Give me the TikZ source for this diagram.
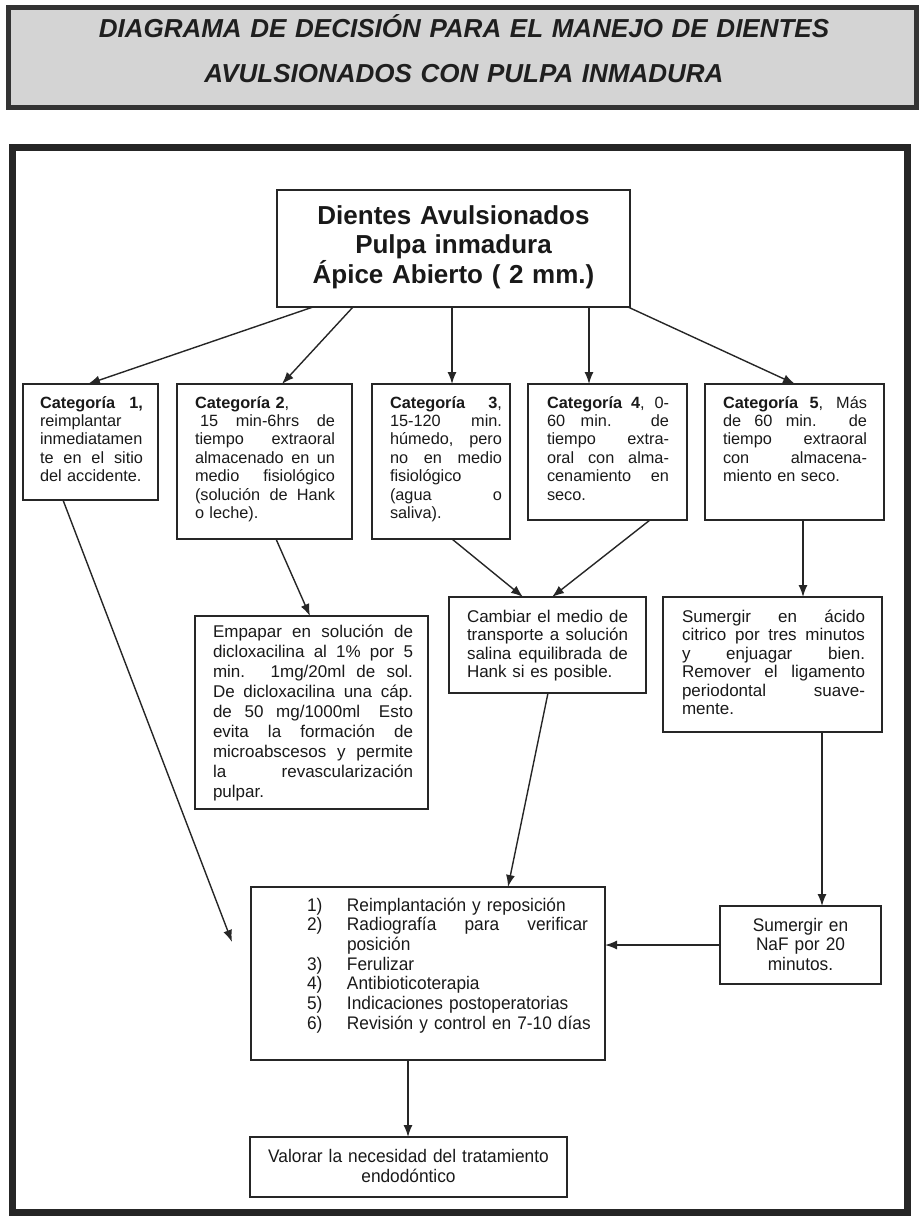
\documentclass[tikz,border=0pt]{standalone}
\usepackage{fontspec}
\setmainfont{Liberation Sans}
\newfontfamily\narrowfont[FakeStretch=0.95]{Liberation Sans}
\usetikzlibrary{arrows.meta,calc}
\newcommand{\jl}[1]{\makebox[\hsize][s]{\spaceskip=0pt\xspaceskip=0pt #1}}
\newcommand{\jw}[2]{\makebox[#1][s]{\spaceskip=0pt\xspaceskip=0pt #2}}
\tikzset{
 box/.style={draw=black!85, line width=1.6pt, inner sep=0pt, outer sep=0pt, anchor=north west},
 txt/.style={anchor=base west, inner sep=0pt, outer sep=0pt, align=left, text=black!90},
 cattxt/.style={txt, font=\fontsize{16.3}{18.4}\selectfont},
 midtxt/.style={txt, font=\fontsize{17}{18.4}\selectfont},
 narrowtxt/.style={inner sep=0pt, outer sep=0pt, text=black!90, font=\narrowfont\fontsize{18.2}{19.7}\selectfont},
 arr/.style={draw=black!85, line width=1.4pt, -{Latex[length=12pt,width=9pt]}},
}
\begin{document}
\begin{tikzpicture}[x=1pt,y=-1pt]
\useasboundingbox (0,0) rectangle (921,1218);
% title
\node[box, draw=black!80, fill=black!17, line width=5pt, minimum width=908pt, minimum height=100pt] (tbox) at (8.5,7.5) {};
\node[anchor=base, inner sep=0pt, text width=900pt, align=center, text=black!88,
  font=\fontsize{26}{45}\selectfont\bfseries\itshape] (title) at (464,37)
  {DIAGRAMA DE DECISIÓN PARA EL MANEJO DE DIENTES\\AVULSIONADOS CON PULPA INMADURA};
% frame
\node[box, draw=black!85, line width=7pt, minimum width=895pt, minimum height=1065.5pt] (frame) at (12,147) {};
% top box
\node[box, minimum width=353pt, minimum height=117pt] (top) at (277,190) {};
\node[anchor=base, inner sep=0pt, text width=345pt, align=center, text=black!90,
  font=\fontsize{26}{29.5}\selectfont\bfseries] (topt) at (453.5,224)
  {Dientes Avulsionados\\Pulpa inmadura\\Ápice Abierto ( 2 mm.)};
% categories
\node[box, minimum width=135pt, minimum height=116pt] (c1) at (23,384) {};
\node[box, minimum width=175pt, minimum height=155pt] (c2) at (177,384) {};
\node[box, minimum width=138pt, minimum height=155pt] (c3) at (372,384) {};
\node[box, minimum width=159pt, minimum height=136pt] (c4) at (528,384) {};
\node[box, minimum width=179pt, minimum height=136pt] (c5) at (705,384) {};
\node[cattxt, text width=103pt] (c1t) at (40,408) {\jl{\textbf{Categoría 1,}}\\reimplantar\\inmediatamen\\\jl{te en el sitio}\\del accidente.};
\node[cattxt, text width=140pt] (c2t) at (195,408) {\textbf{Categoría 2},\\\jl{\hspace*{5pt}15 min-6hrs de}\\\jl{tiempo extraoral}\\\jl{almacenado en un}\\\jl{medio fisiológico}\\\jl{(solución de Hank}\\o leche).};
\node[cattxt, text width=112pt] (c3t) at (390,408) {\jl{\textbf{Categoría 3},}\\\jl{15-120 min.}\\\jl{húmedo, pero}\\\jl{no en medio}\\fisiológico\\\jl{(agua o}\\saliva).};
\node[cattxt, text width=122pt] (c4t) at (547,408) {\jl{\textbf{Categoría 4}, 0-}\\\jl{60 min. de}\\\jl{tiempo extra-}\\\jl{oral con alma-}\\\jl{cenamiento en}\\seco.};
\node[cattxt, text width=144pt] (c5t) at (723,408) {\jl{\textbf{Categoría 5}, Más}\\\jl{de 60 min. de}\\\jl{tiempo extraoral}\\\jl{con almacena-}\\miento en seco.};
% middle boxes
\node[box, minimum width=233pt, minimum height=193pt] (dic) at (195,616) {};
\node[box, minimum width=197pt, minimum height=96pt] (cam) at (449,597) {};
\node[box, minimum width=219pt, minimum height=135pt] (cit) at (663,597) {};
\node[txt, font=\fontsize{17}{20}\selectfont, text width=200pt] (dict) at (213,637.5) {\jl{Empapar en solución de}\\\jl{dicloxacilina al 1\% por 5}\\\jl{min. 1mg/20ml de sol.}\\\jl{De dicloxacilina una cáp.}\\\jl{de 50 mg/1000ml\hspace{6pt} Esto}\\\jl{evita la formación de}\\\jl{microabscesos y permite}\\\jl{la revascularización}\\pulpar.};
\node[midtxt, text width=161pt] (camt) at (467,622.5) {\jl{Cambiar el medio de}\\\jl{transporte a solución}\\\jl{salina equilibrada de}\\Hank si es posible.};
\node[midtxt, text width=183pt] (citt) at (682,622.5) {\jl{Sumergir en ácido}\\\jl{citrico por tres minutos}\\\jl{y enjuagar bien.}\\\jl{Remover el ligamento}\\\jl{periodontal suave-}\\mente.};
% bottom boxes
\node[box, minimum width=354pt, minimum height=173pt] (lst) at (251,887) {};
\node[box, minimum width=161pt, minimum height=78pt] (naf) at (720,906) {};
\node[box, minimum width=317pt, minimum height=60pt] (val) at (250,1137) {};
\node[narrowtxt, anchor=base west, text width=290pt, align=left] (lstt) at (307,911)
 {\makebox[40pt][l]{1)}Reimplantación y reposición\\
  \makebox[40pt][l]{2)}\jw{241pt}{Radiografía para verificar}\\
  \hspace*{40pt}posición\\
  \makebox[40pt][l]{3)}Ferulizar\\
  \makebox[40pt][l]{4)}Antibioticoterapia\\
  \makebox[40pt][l]{5)}Indicaciones postoperatorias\\
  \makebox[40pt][l]{6)}Revisión y control en 7-10 días};
\node[narrowtxt, anchor=base, text width=150pt, align=center] (naft) at (800.5,931) {Sumergir en\\NaF por 20\\minutos.};
\node[narrowtxt, anchor=base, text width=310pt, align=center, font=\narrowfont\fontsize{18.2}{20}\selectfont] (valt) at (408.5,1162) {Valorar la necesidad del tratamiento\\endodóntico};
% connectors
\coordinate (c1end) at (232,942);
\draw[arr] ([xshift=36pt]top.south west) -- ([xshift=65pt]c1.north west);
\draw[arr] ([xshift=76pt]top.south west) -- ([xshift=105pt]c2.north west);
\draw[arr] ([xshift=175pt]top.south west) -- ([xshift=80pt]c3.north west);
\draw[arr] ([xshift=312pt]top.south west) -- ([xshift=61pt]c4.north west);
\draw[arr] ([xshift=-2pt]top.south east) -- ([xshift=90pt]c5.north west);
\draw[arr] ([xshift=40pt]c1.south west) -- (c1end);
\draw[arr] ([xshift=99pt]c2.south west) -- ([xshift=115pt]dic.north west);
\draw[arr] ([xshift=80pt]c3.south west) -- ([xshift=74pt]cam.north west);
\draw[arr] ([xshift=122pt]c4.south west) -- ([xshift=103pt]cam.north west);
\draw[arr] ([xshift=98pt]c5.south west) -- ([xshift=140pt]cit.north west);
\draw[arr] ([xshift=99pt]cam.south west) -- ([xshift=257pt]lst.north west);
\draw[arr] ([xshift=159pt]cit.south west) -- ([xshift=102pt]naf.north west);
\draw[arr] (naf.west) -- (naf.west -| lst.east);
\draw[arr] ([xshift=157pt]lst.south west) -- ([xshift=158pt]val.north west);
\end{tikzpicture}
\end{document}
